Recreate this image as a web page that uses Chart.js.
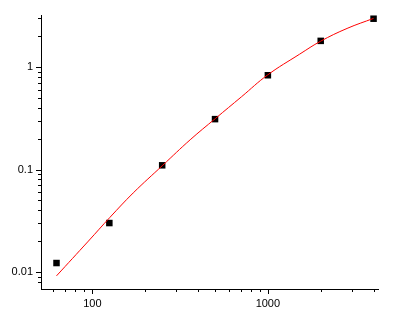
<!DOCTYPE html>
<html>
<head>
<meta charset="utf-8">
<script src="https://cdn.jsdelivr.net/npm/chart.js@4/dist/chart.umd.min.js"></script>
<style>
  body { margin: 0; background: #fff; }
  #wrap { width: 400px; height: 321px; }
</style>
</head>
<body>
<div id="wrap"><canvas id="standard-curve"></canvas></div>
<script>
// measured standards
const concentrations = [62.5, 125, 250, 500, 1000, 2000, 4000];
const responses = [0.0122, 0.030, 0.110, 0.311, 0.835, 1.81, 2.98];

// fitted curve
const fitX = [62.5, 95, 126, 171, 252, 361, 503, 708, 996, 1516, 2000, 2826, 4000];
const fitY = [0.00914, 0.0200, 0.0341, 0.0591, 0.1102, 0.1955, 0.316, 0.515, 0.840, 1.341, 1.798, 2.395, 3.003];

const axisFont = { family: "'Liberation Sans', Arial, sans-serif", size: 11 };

function toPoints(xs, ys) {
  return xs.map((x, i) => ({ x: x, y: ys[i] }));
}

function isNiceLogValue(value) {
  const exp = Math.floor(Math.log10(value) + 1e-9);
  const significand = value / Math.pow(10, exp);
  return Math.abs(significand - Math.round(significand)) < 1e-6;
}

function isPowerOfTen(value) {
  const l = Math.log10(value);
  return Math.abs(l - Math.round(l)) < 1e-6;
}

function decadeLabel(value) {
  return isPowerOfTen(value) ? String(Number(value.toPrecision(6))) : "";
}

// tick marks drawn outside the axes, long for decades, short otherwise
const tickMarks = {
  id: "tickMarks",
  afterDraw(chart) {
    const { ctx, chartArea, scales } = chart;
    ctx.save();
    ctx.strokeStyle = "#000";
    ctx.lineWidth = 1;
    ctx.beginPath();
    for (const tick of scales.x.ticks) {
      if (!isNiceLogValue(tick.value)) continue;
      const px = Math.round(scales.x.getPixelForValue(tick.value)) + 0.5;
      const len = isPowerOfTen(tick.value) ? 5 : 3;
      ctx.moveTo(px, chartArea.bottom);
      ctx.lineTo(px, chartArea.bottom + len);
    }
    for (const tick of scales.y.ticks) {
      if (!isNiceLogValue(tick.value)) continue;
      const py = Math.round(scales.y.getPixelForValue(tick.value)) + 0.5;
      const len = isPowerOfTen(tick.value) ? 5 : 3;
      ctx.moveTo(chartArea.left, py);
      ctx.lineTo(chartArea.left - len, py);
    }
    ctx.stroke();
    ctx.restore();
  },
};

new Chart(document.getElementById("standard-curve"), {
  type: "scatter",
  data: {
    datasets: [
      {
        label: "fit",
        data: toPoints(fitX, fitY),
        showLine: true,
        borderColor: "rgb(255, 0, 0)",
        borderWidth: 1,
        pointRadius: 0,
        tension: 0.4,
      },
      {
        label: "standards",
        data: toPoints(concentrations, responses),
        pointStyle: "rect",
        pointRadius: 4.6,
        pointBorderWidth: 0,
        backgroundColor: "#000",
        borderColor: "#000",
      },
    ],
  },
  options: {
    responsive: true,
    maintainAspectRatio: false,
    animation: false,
    layout: { padding: { top: 15, right: 22, left: 0, bottom: 0 } },
    plugins: { legend: { display: false }, tooltip: { enabled: false } },
    scales: {
      x: {
        type: "logarithmic",
        min: 51,
        max: 4240,
        grid: { display: false, drawTicks: false },
        border: { display: true, color: "#000", width: 1 },
        ticks: {
          autoSkip: false,
          maxRotation: 0,
          padding: 8,
          color: "#000",
          font: axisFont,
          callback: (value) => decadeLabel(value),
        },
        afterFit: (scale) => { scale.height = 32; },
      },
      y: {
        type: "logarithmic",
        min: 0.0068,
        max: 3.24,
        grid: { display: false, drawTicks: false },
        border: { display: true, color: "#000", width: 1 },
        ticks: {
          autoSkip: false,
          padding: 8,
          color: "#000",
          font: axisFont,
          callback: (value) => decadeLabel(value),
        },
        afterFit: (scale) => { scale.width = 41; },
      },
    },
  },
  plugins: [tickMarks],
});
</script>
</body>
</html>
